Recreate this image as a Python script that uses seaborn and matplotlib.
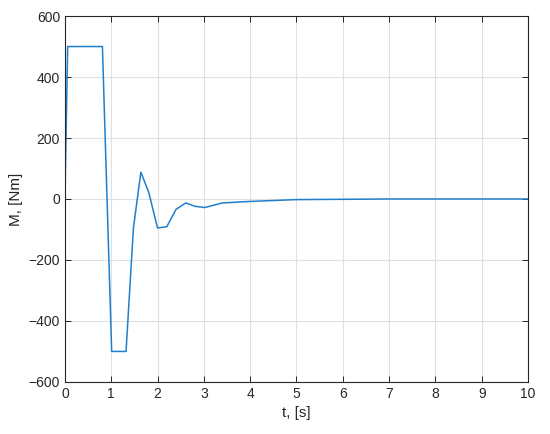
"""Torque response M(t), MATLAB-style line plot."""

import matplotlib
matplotlib.use("Agg")
import matplotlib.pyplot as plt
import pandas as pd
import seaborn as sns

t_s = [0.0, 0.06, 0.81, 0.97, 1.01, 1.32, 1.48, 1.64, 1.81, 2.0, 2.2, 2.4,
       2.61, 2.81, 3.02, 3.4, 4.0, 5.0, 6.0, 7.0, 10.0]
m_nm = [0, 500, 500, -300, -500, -500, -95, 88, 22, -95, -91, -34,
        -13, -24, -28, -13, -8, -2, -1, 0, 0]

sns.set_theme(style="white")
plt.rcParams["font.family"] = ["Liberation Sans", "DejaVu Sans"]

df = pd.DataFrame({"t": t_s, "M": m_nm})

fig = plt.figure(figsize=(5.5, 4.34), dpi=100)
ax = fig.add_axes([0.118, 0.12, 0.842, 0.843])
sns.lineplot(data=df, x="t", y="M", ax=ax, color="#1f7fcc", linewidth=1.1,
             sort=False)

ax.set_xlim(0, 10)
ax.set_ylim(-600, 600)
ax.set_xticks(range(0, 11))
ax.set_yticks(range(-600, 601, 200))
ax.grid(True, color="#e0e0e0", linewidth=0.8)
ax.set_axisbelow(True)
ax.tick_params(direction="in", length=4, width=0.7, colors="#262626",
               labelsize=10, top=True, right=True, bottom=True, left=True)
for s in ax.spines.values():
    s.set_color("#262626")
    s.set_linewidth(0.8)
ax.set_xlabel("t, [s]", fontsize=11, color="#262626")
ax.set_ylabel("M, [Nm]", fontsize=11, color="#262626")

fig.savefig("out.png", dpi=100)
